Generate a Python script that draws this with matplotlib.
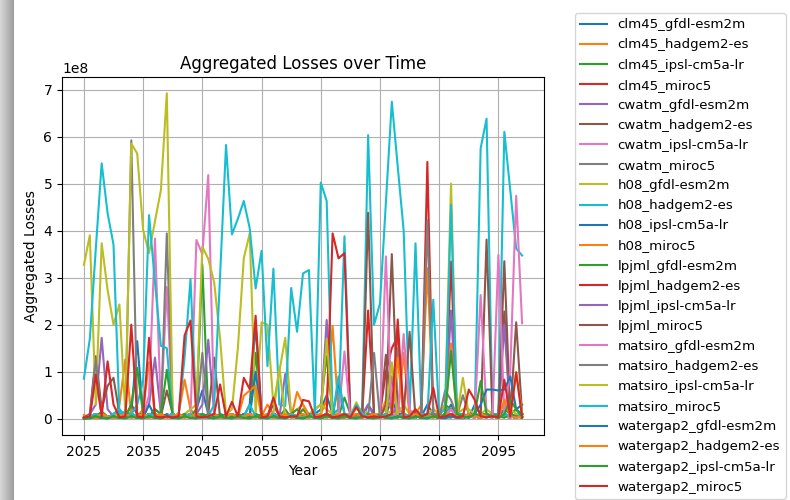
import numpy as np
import matplotlib
matplotlib.use("Agg")
import matplotlib.pyplot as plt

years = list(range(2025, 2100))

# values in units of 1e8, one per year 2025..2099
clm45_gfdl = [
    0.02, 0.01, 0.03, 0.05, 0.02, 0.10, 0.20, 0.05, 0.10, 1.65,
    0.10, 0.05, 0.02, 0.10, 0.05, 0.02, 0.03, 0.10, 0.05, 0.20,
    0.60, 0.10, 0.02, 0.05, 0.03, 0.10, 0.02, 0.05, 0.30, 2.00,
    0.10, 0.05, 0.02, 0.03, 0.05, 0.10, 0.02, 0.03, 0.05, 0.10,
    0.20, 0.50, 0.10, 0.05, 0.02, 0.10, 0.05, 0.02, 0.30, 0.10,
    0.05, 0.10, 0.40, 0.10, 0.05, 0.02, 0.10, 0.05, 0.30, 0.10,
    0.05, 0.10, 0.30, 0.05, 0.10, 0.02, 0.30, 0.10, 0.05, 0.10,
    0.05, 0.20, 0.10, 0.20, 0.30]
clm45_hadgem = [
    0.08, 0.03, 0.01, 0.02, 0.05, 0.02, 0.30, 1.26, 0.10, 0.05,
    0.20, 1.20, 0.05, 0.02, 0.03, 0.02, 0.10, 0.83, 0.20, 0.05,
    0.02, 0.05, 0.10, 0.02, 0.03, 0.05, 0.10, 0.05, 0.10, 0.05,
    0.05, 0.30, 0.10, 0.02, 0.05, 0.10, 0.05, 0.20, 0.10, 0.05,
    0.10, 0.40, 1.97, 0.10, 0.05, 0.02, 0.10, 0.05, 0.10, 0.02,
    0.05, 0.40, 0.20, 0.10, 0.05, 0.02, 0.10, 0.30, 3.20, 0.20,
    0.10, 0.05, 0.20, 0.10, 0.02, 0.05, 0.10, 0.02, 0.05, 0.10,
    0.02, 0.10, 0.05, 0.10, 0.02]
clm45_ipsl = [
    0.00, 0.01, 0.05, 0.15, 0.05, 0.02, 0.03, 0.10, 0.05, 0.10,
    0.10, 0.05, 0.20, 0.10, 0.05, 0.05, 0.02, 0.10, 0.05, 0.20,
    3.27, 0.10, 0.05, 0.02, 0.03, 0.05, 0.02, 0.10, 0.05, 1.40,
    0.05, 0.02, 0.10, 0.05, 0.20, 0.02, 0.05, 0.20, 0.05, 0.20,
    0.30, 1.33, 0.10, 0.05, 0.45, 0.10, 0.05, 0.20, 0.10, 0.05,
    0.02, 0.10, 0.05, 0.02, 0.10, 0.05, 0.02, 0.10, 0.05, 0.10,
    0.05, 0.30, 0.20, 0.10, 0.05, 0.10, 0.05, 0.10, 0.10, 0.05,
    0.10, 0.05, 0.10, 0.20, 0.05]
clm45_miroc5 = [
    0.02, 0.05, 0.10, 0.05, 0.02, 0.10, 0.05, 0.02, 0.10, 0.05,
    0.02, 0.10, 0.05, 0.02, 0.05, 0.10, 0.02, 0.05, 0.10, 0.05,
    0.02, 0.05, 0.10, 0.02, 0.05, 0.10, 0.02, 0.05, 0.10, 0.05,
    0.02, 0.05, 0.10, 0.05, 0.02, 0.10, 0.05, 0.02, 0.05, 0.10,
    0.05, 0.10, 0.02, 0.05, 0.10, 0.05, 0.30, 0.10, 2.30, 0.10,
    0.10, 1.00, 1.50, 1.75, 0.10, 0.05, 0.10, 0.02, 0.10, 0.05,
    0.02, 0.05, 0.10, 0.05, 0.02, 0.10, 0.05, 0.02, 0.10, 0.05,
    0.10, 0.05, 0.02, 0.10, 0.05]
cwatm_gfdl = [
    0.02, 0.10, 0.30, 1.72, 0.20, 0.05, 0.02, 0.10, 0.05, 0.02,
    0.05, 0.30, 1.30, 0.10, 0.05, 0.02, 0.10, 0.05, 0.02, 0.10,
    0.30, 1.68, 0.10, 0.05, 0.02, 0.10, 0.05, 0.02, 0.10, 0.05,
    0.02, 0.10, 0.05, 0.02, 0.95, 0.10, 0.05, 0.02, 0.10, 0.05,
    0.10, 2.10, 0.20, 0.05, 0.02, 0.10, 0.05, 0.02, 0.10, 0.05,
    0.02, 0.10, 0.05, 0.30, 0.05, 0.02, 0.10, 0.05, 0.02, 0.10,
    0.05, 0.02, 0.10, 0.05, 0.02, 0.10, 0.05, 0.10, 0.05, 0.02,
    0.10, 0.05, 0.02, 0.10, 0.05]
cwatm_hadgem = [
    0.02, 0.10, 1.33, 0.20, 0.70, 0.87, 0.10, 0.05, 0.30, 0.10,
    0.05, 0.02, 0.10, 0.05, 0.60, 0.10, 0.05, 0.02, 0.10, 0.05,
    0.02, 0.10, 1.30, 0.02, 0.10, 0.05, 0.02, 0.10, 0.05, 0.02,
    0.10, 0.05, 0.30, 0.05, 0.02, 0.10, 0.05, 0.02, 0.10, 0.05,
    0.02, 0.10, 0.05, 0.02, 0.10, 0.05, 0.02, 0.10, 0.05, 0.02,
    0.10, 1.36, 0.10, 0.05, 0.02, 0.10, 0.05, 0.02, 0.10, 0.05,
    0.02, 0.10, 0.05, 0.02, 0.10, 0.05, 0.02, 0.10, 0.05, 0.10,
    0.10, 2.28, 0.10, 0.05, 0.02]
cwatm_ipsl = [
    0.02, 0.05, 0.90, 0.10, 0.05, 0.02, 0.10, 0.05, 0.02, 0.10,
    0.05, 0.50, 3.83, 0.20, 2.80, 0.05, 0.02, 0.10, 0.05, 3.80,
    3.50, 5.18, 0.10, 0.05, 0.02, 0.10, 0.05, 0.02, 0.10, 0.05,
    0.02, 0.10, 0.05, 0.02, 0.10, 0.05, 0.02, 0.10, 0.05, 0.02,
    0.10, 0.05, 0.02, 0.10, 0.05, 0.02, 0.10, 0.05, 0.02, 0.10,
    0.05, 0.02, 0.10, 0.05, 0.02, 0.10, 0.05, 0.02, 0.10, 0.05,
    0.02, 0.10, 0.05, 0.02, 0.10, 0.05, 0.02, 0.10, 0.05, 0.02,
    0.10, 0.05, 0.02, 0.10, 0.05]
cwatm_miroc5 = [
    0.02, 0.05, 0.10, 0.05, 0.02, 0.10, 0.05, 0.02, 5.92, 0.10,
    0.05, 0.02, 0.10, 0.05, 3.94, 0.05, 0.02, 0.10, 0.05, 0.02,
    0.10, 0.05, 0.02, 0.10, 0.05, 0.02, 0.10, 0.05, 0.02, 0.10,
    0.05, 0.02, 0.10, 0.05, 0.02, 0.10, 0.05, 0.02, 0.10, 0.05,
    0.02, 0.10, 0.05, 0.02, 0.10, 0.05, 0.02, 0.10, 0.05, 0.02,
    0.10, 0.05, 0.02, 0.10, 0.05, 0.02, 0.10, 0.05, 0.02, 0.10,
    0.05, 0.02, 0.10, 0.05, 0.02, 0.10, 0.05, 0.02, 0.10, 0.05,
    0.02, 0.10, 0.05, 0.02, 0.10]
h08_gfdl = [
    3.27, 3.90, 0.30, 3.73, 2.74, 2.00, 2.43, 0.10, 5.85, 5.64,
    4.01, 3.52, 4.20, 4.86, 6.92, 0.10, 0.05, 0.10, 0.20, 0.30,
    3.66, 3.40, 2.90, 1.70, 0.10, 0.20, 1.50, 3.41, 3.94, 0.10,
    2.05, 2.00, 0.30, 1.00, 1.72, 0.10, 0.20, 0.30, 0.10, 0.20,
    0.30, 0.20, 0.10, 0.10, 0.10, 0.10, 0.20, 0.20, 0.10, 0.10,
    0.10, 0.20, 0.10, 0.10, 0.30, 0.10, 0.20, 0.10, 0.10, 0.20,
    0.10, 0.30, 5.00, 0.10, 0.20, 0.20, 0.10, 0.10, 0.20, 0.10,
    0.10, 0.30, 0.20, 0.10, 0.10]
h08_hadgem = [
    0.85, 1.70, 3.60, 5.43, 4.37, 3.70, 0.10, 0.15, 0.10, 0.30,
    0.80, 4.33, 2.90, 1.55, 1.50, 0.05, 0.10, 1.30, 2.97, 0.10,
    0.10, 0.05, 0.30, 3.05, 5.82, 3.92, 4.25, 4.63, 4.05, 2.77,
    3.57, 1.12, 3.19, 0.30, 0.27, 2.78, 1.85, 3.09, 3.16, 0.10,
    5.02, 4.63, 0.10, 0.20, 3.88, 0.10, 0.05, 0.20, 6.03, 2.00,
    2.45, 4.60, 6.74, 5.36, 4.00, 0.10, 3.73, 0.10, 0.10, 0.10,
    0.10, 0.20, 0.20, 0.10, 0.10, 0.05, 0.10, 5.75, 6.38, 0.10,
    0.10, 6.10, 4.86, 3.62, 3.47]
h08_ipsl = [
    0.01, 0.02, 0.05, 0.02, 0.01, 0.10, 0.05, 0.02, 0.10, 0.05,
    0.02, 0.30, 0.05, 0.02, 0.10, 0.05, 0.02, 0.05, 0.10, 0.05,
    0.02, 0.10, 0.05, 0.02, 0.10, 0.05, 0.02, 0.10, 0.05, 1.00,
    0.05, 0.02, 0.10, 0.05, 0.02, 0.10, 0.05, 0.02, 0.10, 0.05,
    0.02, 0.10, 0.05, 0.80, 0.10, 0.05, 0.02, 0.10, 0.05, 0.02,
    0.10, 0.05, 0.02, 0.10, 0.05, 0.02, 0.10, 0.05, 0.02, 0.10,
    0.05, 0.02, 0.10, 0.05, 0.02, 0.10, 0.05, 0.02, 0.10, 0.05,
    0.02, 0.10, 0.05, 0.02, 0.10]
h08_miroc5 = [
    0.02, 0.05, 0.02, 0.10, 0.05, 0.02, 0.05, 0.10, 0.02, 0.05,
    0.10, 0.02, 0.05, 0.10, 0.02, 0.05, 0.10, 0.02, 0.05, 0.10,
    0.02, 0.05, 0.10, 0.02, 0.05, 0.10, 0.02, 0.49, 0.60, 0.70,
    0.05, 0.10, 0.02, 0.05, 0.10, 0.02, 0.57, 0.30, 0.05, 0.10,
    0.02, 0.05, 0.10, 0.02, 0.05, 0.10, 0.02, 0.05, 0.10, 0.02,
    0.05, 0.10, 0.02, 0.05, 1.40, 0.02, 0.05, 0.10, 0.02, 0.05,
    0.10, 0.02, 0.05, 0.10, 0.02, 0.05, 0.10, 0.02, 0.05, 0.10,
    0.02, 0.05, 0.10, 0.02, 0.05]
lpjml_gfdl = [
    0.02, 0.05, 0.10, 0.05, 0.02, 0.10, 0.05, 0.02, 0.30, 1.08,
    0.10, 0.05, 0.20, 0.10, 1.04, 0.05, 0.02, 0.10, 0.05, 0.02,
    0.10, 0.05, 0.02, 0.10, 0.05, 0.02, 0.10, 0.05, 0.02, 0.10,
    0.05, 0.02, 0.10, 0.05, 0.02, 0.10, 0.20, 0.05, 0.02, 0.10,
    0.05, 0.02, 0.10, 0.05, 0.02, 0.10, 0.05, 0.02, 0.10, 0.05,
    0.02, 0.10, 0.05, 0.02, 0.10, 0.05, 0.02, 0.10, 0.05, 0.02,
    0.10, 0.05, 0.02, 0.10, 0.05, 0.02, 0.10, 0.05, 0.02, 0.10,
    0.05, 0.02, 0.10, 0.05, 0.02]
lpjml_hadgem = [
    0.02, 0.05, 0.10, 0.05, 0.02, 0.10, 0.05, 0.02, 0.10, 0.05,
    0.02, 0.10, 0.05, 0.02, 0.05, 0.10, 0.02, 0.05, 0.10, 0.05,
    0.02, 0.05, 0.10, 0.02, 0.05, 0.10, 0.02, 0.05, 0.10, 0.05,
    0.02, 0.05, 0.10, 0.05, 0.02, 0.10, 0.05, 0.02, 0.05, 0.10,
    0.05, 0.10, 3.94, 3.41, 3.52, 0.05, 0.10, 0.02, 0.10, 0.05,
    0.02, 0.10, 0.05, 0.02, 0.10, 0.05, 0.02, 0.10, 5.46, 0.05,
    0.02, 0.10, 3.34, 0.05, 0.02, 0.10, 0.05, 0.02, 0.10, 0.05,
    0.02, 0.10, 0.05, 0.02, 0.10]
lpjml_ipsl = [
    0.02, 0.05, 0.10, 0.05, 0.02, 0.10, 0.05, 0.02, 0.10, 0.05,
    0.02, 0.10, 0.05, 0.02, 0.05, 0.10, 0.02, 0.05, 0.10, 0.05,
    0.02, 0.05, 0.10, 0.02, 0.05, 0.10, 0.02, 0.05, 0.10, 0.05,
    0.02, 0.05, 0.10, 0.05, 0.02, 0.10, 0.05, 0.02, 0.05, 0.10,
    0.05, 0.10, 0.02, 0.05, 0.10, 0.05, 0.02, 0.10, 0.30, 0.05,
    0.02, 0.10, 0.90, 0.02, 0.10, 0.05, 0.02, 0.10, 0.05, 0.05,
    0.02, 0.10, 2.30, 0.05, 0.02, 0.10, 0.05, 0.02, 0.10, 0.05,
    0.02, 2.00, 0.05, 0.02, 0.10]
lpjml_miroc5 = [
    0.02, 0.05, 0.10, 0.05, 0.02, 0.10, 0.05, 0.02, 0.10, 0.05,
    0.02, 0.10, 0.05, 0.02, 0.05, 0.10, 0.02, 0.05, 0.10, 0.05,
    0.02, 0.05, 0.10, 0.02, 0.05, 0.10, 0.02, 0.05, 0.10, 0.05,
    0.02, 0.05, 0.10, 0.05, 0.02, 0.10, 0.05, 0.02, 0.05, 0.10,
    0.05, 0.10, 0.02, 0.05, 0.10, 0.05, 0.02, 0.10, 4.38, 0.05,
    0.02, 0.30, 3.50, 0.10, 0.10, 1.85, 0.02, 0.10, 0.05, 0.05,
    0.02, 0.10, 0.20, 0.05, 0.02, 0.10, 0.05, 0.02, 3.81, 0.05,
    0.02, 3.35, 0.05, 2.05, 0.10]
matsiro_gfdl = [
    0.02, 0.05, 0.10, 0.05, 0.02, 0.10, 0.05, 0.02, 0.10, 0.05,
    0.02, 0.10, 0.05, 0.02, 0.05, 0.10, 0.02, 0.05, 0.10, 0.05,
    0.02, 0.05, 0.10, 0.02, 0.05, 0.10, 0.02, 0.05, 0.10, 0.05,
    0.02, 0.05, 0.10, 0.05, 0.02, 0.10, 0.05, 0.02, 0.05, 0.10,
    0.05, 0.10, 0.02, 0.05, 1.43, 0.05, 0.02, 0.10, 0.05, 0.05,
    0.02, 3.45, 0.10, 0.05, 1.80, 0.20, 0.02, 0.10, 0.05, 0.05,
    0.02, 0.10, 0.20, 0.05, 0.02, 0.10, 0.05, 2.63, 0.10, 0.05,
    3.48, 0.10, 1.00, 4.74, 2.03]
matsiro_hadgem = [
    0.02, 0.05, 1.25, 0.05, 0.02, 0.10, 0.05, 0.02, 0.10, 0.05,
    0.02, 0.10, 0.05, 0.02, 0.05, 0.10, 0.02, 0.05, 0.10, 0.05,
    1.40, 0.05, 0.10, 0.02, 0.05, 0.10, 0.02, 0.05, 0.10, 0.05,
    0.02, 0.05, 0.10, 0.05, 0.02, 0.10, 0.05, 0.02, 0.05, 0.10,
    0.05, 0.10, 0.02, 0.05, 0.10, 0.05, 0.02, 0.10, 0.05, 1.40,
    0.02, 0.10, 0.05, 1.50, 0.10, 0.05, 0.02, 0.10, 4.22, 0.05,
    0.02, 0.60, 0.40, 0.05, 0.50, 0.10, 0.05, 0.02, 0.10, 0.05,
    0.02, 0.10, 0.05, 0.02, 0.10]
matsiro_ipsl = [
    0.02, 0.05, 0.10, 0.05, 0.02, 0.10, 0.05, 0.02, 0.10, 0.05,
    0.02, 0.10, 0.05, 0.02, 0.05, 0.10, 0.02, 0.05, 0.10, 0.05,
    0.02, 0.05, 0.10, 0.02, 0.05, 0.10, 0.02, 0.05, 0.10, 0.05,
    0.02, 0.05, 0.10, 1.10, 0.02, 0.10, 0.05, 0.02, 0.05, 0.10,
    0.05, 1.70, 0.02, 0.05, 0.10, 0.05, 0.35, 0.10, 0.05, 0.05,
    0.02, 0.10, 1.20, 0.02, 0.10, 0.05, 0.02, 0.10, 0.05, 0.05,
    0.02, 0.10, 0.05, 0.05, 0.87, 0.10, 0.05, 0.02, 0.10, 0.05,
    0.02, 0.10, 0.05, 1.00, 0.10]
matsiro_miroc5 = [
    0.02, 0.05, 0.10, 0.05, 0.02, 0.10, 0.20, 0.02, 0.10, 0.05,
    0.02, 0.10, 0.05, 0.02, 0.05, 0.10, 0.02, 0.05, 0.10, 0.05,
    0.02, 0.05, 0.10, 0.02, 0.05, 0.10, 0.02, 0.05, 0.30, 0.05,
    0.02, 0.05, 0.10, 0.05, 0.02, 0.10, 0.05, 0.02, 0.05, 0.10,
    0.05, 0.10, 0.02, 0.90, 0.10, 0.05, 0.30, 0.10, 0.05, 0.05,
    0.02, 0.10, 0.05, 0.02, 0.10, 0.05, 0.02, 0.10, 0.05, 2.53,
    0.02, 0.10, 4.55, 0.05, 0.02, 0.10, 0.05, 0.02, 0.10, 0.05,
    0.02, 0.10, 0.05, 0.02, 0.10]
watergap2_gfdl = [
    0.01, 0.02, 0.05, 0.02, 0.01, 0.05, 0.02, 0.01, 0.05, 0.02,
    0.01, 0.05, 0.02, 0.01, 0.05, 0.02, 0.01, 0.05, 0.02, 0.01,
    0.05, 0.02, 0.01, 0.05, 0.02, 0.01, 0.05, 0.02, 0.01, 0.05,
    0.02, 0.01, 0.05, 0.02, 0.01, 0.05, 0.02, 0.01, 0.05, 0.02,
    0.01, 0.05, 0.02, 0.01, 0.05, 0.02, 0.01, 0.05, 0.02, 0.01,
    0.05, 0.02, 0.01, 0.05, 0.02, 0.01, 0.05, 0.02, 0.01, 0.05,
    0.02, 0.01, 0.05, 0.02, 0.01, 0.05, 0.10, 0.30, 0.62, 0.62,
    0.60, 0.62, 0.90, 0.20, 0.10]
watergap2_hadgem = [
    0.02, 0.05, 0.02, 0.10, 0.05, 0.02, 0.05, 0.10, 0.02, 0.05,
    0.10, 0.02, 0.05, 0.10, 0.02, 0.05, 0.10, 0.02, 0.05, 0.10,
    0.02, 0.05, 0.10, 0.02, 0.05, 0.10, 0.02, 0.05, 0.10, 0.02,
    0.05, 0.10, 0.02, 0.05, 0.10, 0.02, 0.05, 0.10, 0.02, 0.05,
    0.10, 0.02, 0.05, 0.10, 0.02, 0.05, 0.10, 0.02, 0.05, 0.10,
    0.02, 0.05, 0.10, 1.30, 0.05, 0.02, 0.10, 0.05, 0.10, 0.02,
    0.05, 0.10, 1.60, 0.05, 0.02, 0.10, 0.05, 0.02, 0.10, 0.05,
    0.02, 0.40, 0.05, 0.02, 0.05]
watergap2_ipsl = [
    0.01, 0.02, 0.05, 0.02, 0.01, 0.05, 0.02, 0.01, 0.05, 0.02,
    0.01, 0.05, 0.02, 0.01, 0.05, 0.02, 0.01, 0.05, 0.02, 0.01,
    0.05, 0.02, 0.01, 0.05, 0.02, 0.01, 0.05, 0.02, 0.01, 0.05,
    0.02, 0.01, 0.05, 0.02, 0.01, 0.05, 0.02, 0.01, 0.05, 0.02,
    0.01, 0.05, 0.02, 0.01, 0.05, 0.02, 0.01, 0.05, 0.02, 0.01,
    0.05, 0.02, 0.01, 0.05, 0.02, 0.01, 0.05, 0.02, 0.01, 0.05,
    0.02, 0.10, 1.44, 0.10, 0.05, 0.02, 0.10, 0.80, 0.10, 0.05,
    0.02, 0.10, 0.40, 0.20, 0.05]
watergap2_miroc5 = [
    0.03, 0.05, 0.94, 0.05, 1.22, 0.30, 0.03, 0.05, 2.00, 0.05,
    0.03, 1.72, 0.05, 0.03, 0.05, 0.03, 0.05, 1.77, 2.09, 0.05,
    0.03, 0.05, 0.10, 0.73, 0.05, 0.36, 0.05, 0.87, 0.63, 2.19,
    0.03, 0.05, 0.45, 0.05, 0.03, 0.05, 0.05, 0.40, 0.37, 0.03,
    0.05, 0.10, 0.03, 0.05, 0.10, 0.03, 0.25, 0.05, 0.03, 0.05,
    0.03, 0.05, 0.10, 2.11, 0.03, 0.05, 0.20, 0.05, 0.10, 0.66,
    0.03, 0.05, 0.10, 0.03, 0.05, 0.62, 0.40, 0.05, 0.03, 0.05,
    0.03, 0.83, 0.05, 0.98, 0.03]

names = [
    "clm45_gfdl-esm2m", "clm45_hadgem2-es", "clm45_ipsl-cm5a-lr", "clm45_miroc5",
    "cwatm_gfdl-esm2m", "cwatm_hadgem2-es", "cwatm_ipsl-cm5a-lr", "cwatm_miroc5",
    "h08_gfdl-esm2m", "h08_hadgem2-es", "h08_ipsl-cm5a-lr", "h08_miroc5",
    "lpjml_gfdl-esm2m", "lpjml_hadgem2-es", "lpjml_ipsl-cm5a-lr", "lpjml_miroc5",
    "matsiro_gfdl-esm2m", "matsiro_hadgem2-es", "matsiro_ipsl-cm5a-lr", "matsiro_miroc5",
    "watergap2_gfdl-esm2m", "watergap2_hadgem2-es", "watergap2_ipsl-cm5a-lr", "watergap2_miroc5",
]
series = [
    clm45_gfdl, clm45_hadgem, clm45_ipsl, clm45_miroc5,
    cwatm_gfdl, cwatm_hadgem, cwatm_ipsl, cwatm_miroc5,
    h08_gfdl, h08_hadgem, h08_ipsl, h08_miroc5,
    lpjml_gfdl, lpjml_hadgem, lpjml_ipsl, lpjml_miroc5,
    matsiro_gfdl, matsiro_hadgem, matsiro_ipsl, matsiro_miroc5,
    watergap2_gfdl, watergap2_hadgem, watergap2_ipsl, watergap2_miroc5,
]

fig = plt.figure(figsize=(7.9, 5), dpi=100)

# grey screenshot shadow on the left edge
shade = fig.add_axes([0, 0, 14 / 790, 1])
shade.imshow(np.linspace(0.84, 0.62, 14).reshape(1, -1), cmap="gray",
             vmin=0, vmax=1, aspect="auto")
shade.axis("off")

ax = fig.add_axes([62 / 790, 65 / 500, 482 / 790, 358 / 500])
for name, vals in zip(names, series):
    ax.plot(years, np.array(vals) * 1e8, label=name)

ax.set_title("Aggregated Losses over Time")
ax.set_xlabel("Year")
ax.set_ylabel("Aggregated Losses")
ax.set_xticks(range(2025, 2100, 10))
ax.grid(True)
ax.legend(loc="center left", bbox_to_anchor=(1.05, 0.5), fontsize=9.65,
          labelspacing=0.53)

fig.savefig("out.png", dpi=100)
